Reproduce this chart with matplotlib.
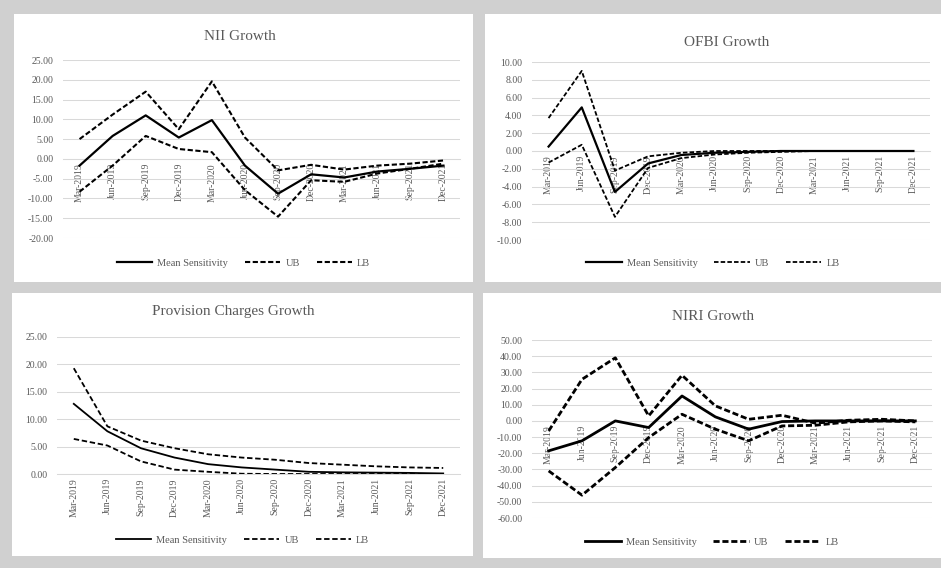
import matplotlib
matplotlib.use("Agg")
import matplotlib.pyplot as plt
from matplotlib.patches import Rectangle

W, H = 941, 568

quarters = ["Mar-2019", "Jun-2019", "Sep-2019", "Dec-2019",
            "Mar-2020", "Jun-2020", "Sep-2020", "Dec-2020",
            "Mar-2021", "Jun-2021", "Sep-2021", "Dec-2021"]

# NII Growth
nii_mean = [-1.7, 5.8, 11.0, 5.4, 9.8, -1.7, -8.8, -3.9, -4.7, -3.2, -2.5, -1.7]
nii_ub = [5.0, 11.2, 17.0, 7.5, 19.6, 5.4, -2.9, -1.5, -2.7, -1.7, -1.2, -0.4]
nii_lb = [-8.3, -1.7, 5.8, 2.5, 1.7, -7.9, -14.6, -5.4, -5.8, -3.7, -2.5, -1.2]

# OFBI Growth
ofbi_mean = [0.5, 4.9, -4.6, -1.4, -0.45, -0.2, -0.1, 0.0, 0.0, 0.0, 0.0, 0.0]
ofbi_ub = [3.7, 9.0, -2.2, -0.6, -0.2, 0.0, 0.0, 0.0, 0.0, 0.0, 0.0, 0.0]
ofbi_lb = [-1.3, 0.7, -7.4, -1.9, -0.8, -0.4, -0.2, -0.1, 0.0, 0.0, 0.0, 0.0]

# Provision Charges Growth
prov_mean = [12.8, 7.8, 4.7, 3.0, 1.8, 1.2, 0.8, 0.4, 0.3, 0.25, 0.2, 0.1]
prov_ub = [19.3, 8.7, 6.1, 4.7, 3.6, 3.0, 2.6, 2.0, 1.7, 1.4, 1.2, 1.1]
prov_lb = [6.4, 5.2, 2.3, 0.8, 0.4, 0.05, 0.0, 0.0, 0.0, 0.0, 0.0, 0.0]

# NIRI Growth
niri_mean = [-18.5, -12.3, 0.0, -4.1, 15.4, 2.5, -5.1, -0.4, 0.0, 0.0, 0.0, 0.0]
niri_ub = [-6.2, 25.7, 39.0, 3.1, 28.2, 9.3, 1.0, 3.5, -1.4, 0.4, 1.0, 0.0]
niri_lb = [-30.9, -45.9, -28.8, -10.3, 4.1, -5.1, -12.3, -3.1, -2.7, -0.6, 0.0, -0.6]

plt.rcParams['font.family'] = ['Liberation Serif', 'DejaVu Serif']

TXT = '#595959'
GRID = '#d9d9d9'

fig = plt.figure(figsize=(W / 100, H / 100), dpi=100, facecolor='#d0d0d0')


def box(l, t, r, b):
    return [l / W, 1 - b / H, (r - l) / W, (b - t) / H]


def panel(bg, area, title, title_xy, leg_y, ylim, yticks, mean, ub, lb, lw, dlw, dash):
    fig.patches.append(Rectangle((bg[0] / W, 1 - bg[3] / H), (bg[2] - bg[0]) / W,
                                 (bg[3] - bg[1]) / H, transform=fig.transFigure,
                                 facecolor='white', edgecolor='none', zorder=-1))
    ax = fig.add_axes(box(*area))
    ax.set_facecolor('none')
    x = range(len(quarters))
    ax.plot(x, mean, color='black', lw=lw, label='Mean Sensitivity', zorder=4)
    ax.plot(x, ub, color='black', lw=dlw, dashes=dash, label='UB', zorder=3)
    ax.plot(x, lb, color='black', lw=dlw, dashes=dash, label='LB', zorder=3)
    ax.set_xlim(-0.5, len(quarters) - 0.5)
    ax.set_ylim(*ylim)
    ax.set_yticks(yticks)
    ax.set_yticklabels([f"{v:.2f}" for v in yticks])
    ax.set_xticks(list(x))
    ax.set_xticklabels(quarters)
    for s in ['top', 'right', 'left']:
        ax.spines[s].set_visible(False)
    ax.spines['bottom'].set_position(('data', 0))
    ax.spines['bottom'].set_color(GRID)
    ax.spines['bottom'].set_linewidth(0.75)
    ax.tick_params(length=0, labelsize=7, colors=TXT)
    ax.tick_params(axis='x', pad=3, labelrotation=90)
    ax.tick_params(axis='y', pad=7)
    ax.grid(axis='y', color=GRID, lw=0.75)
    ax.set_axisbelow(True)
    fig.text(title_xy[0] / W, 1 - title_xy[1] / H, title, ha='center', va='center',
             fontsize=11, color=TXT)
    ax.legend(loc='center', bbox_to_anchor=((bg[0] + bg[2]) / 2 / W, 1 - leg_y / H),
              bbox_transform=fig.transFigure, ncol=3, frameon=False, fontsize=7.5,
              labelcolor=TXT, handlelength=3.4, columnspacing=1.6, handletextpad=0.5)
    return ax


panel((14, 14, 473, 282), (63, 60, 460, 238), 'NII Growth', (240, 37), 263,
      (-20, 25), list(range(25, -25, -5)), nii_mean, nii_ub, nii_lb, 1.6, 1.5, (2.5, 1.2))
panel((485, 14, 941, 282), (532, 62, 930, 240), 'OFBI Growth', (727, 42), 263,
      (-10, 10), list(range(10, -12, -2)), ofbi_mean, ofbi_ub, ofbi_lb, 1.6, 1.3, (2.5, 1.2))
panel((12, 293, 473, 556), (57, 337, 460, 474), 'Provision Charges Growth', (233, 312), 540,
      (0, 25), list(range(25, -5, -5)), prov_mean, prov_ub, prov_lb, 1.3, 1.3, (3, 1.5))
panel((483, 293, 941, 558), (532, 340, 932, 518), 'NIRI Growth', (713, 317), 542,
      (-60, 50), list(range(50, -70, -10)), niri_mean, niri_ub, niri_lb, 2.0, 2.0, (2.2, 1.0))

fig.savefig('out.png', dpi=100, facecolor=fig.get_facecolor())
